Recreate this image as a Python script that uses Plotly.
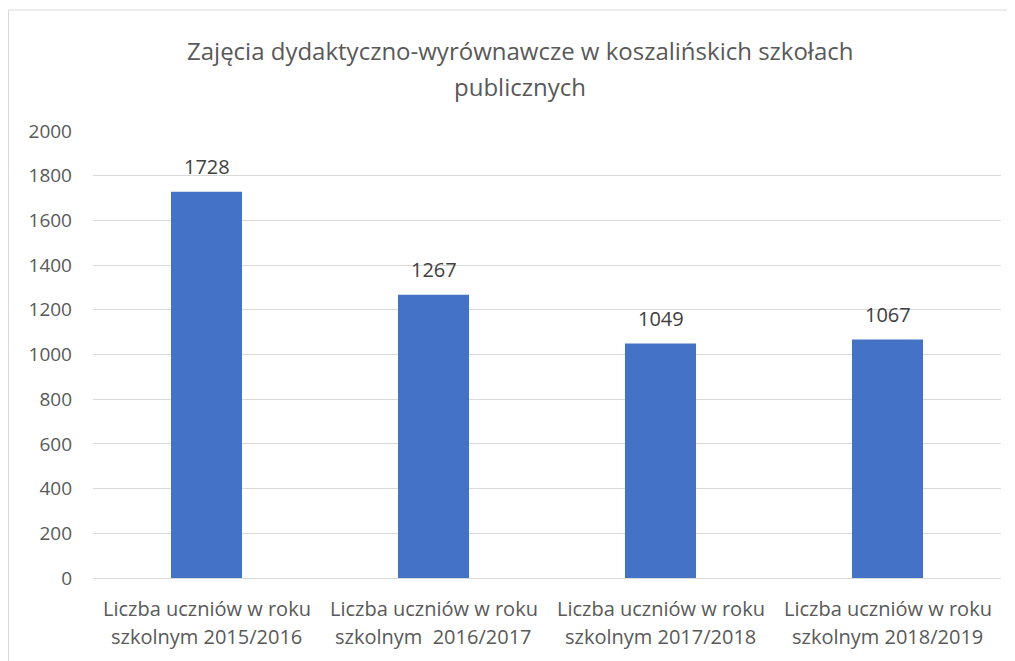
import plotly.graph_objects as go

categories = ["2015/2016", "2016/2017", "2017/2018", "2018/2019"]
label_top = ["Liczba uczniów w roku"] * 4
label_bottom = ["szkolnym 2015/2016", "szkolnym\u00a0 2016/2017",
                "szkolnym 2017/2018", "szkolnym 2018/2019"]
values = [1728, 1267, 1049, 1067]
title_lines = ["Zajęcia dydaktyczno-wyrównawcze w koszalińskich szkołach",
               "publicznych"]

FONT = "Open Sans, Noto Sans, sans-serif"
GREY = "#595959"

fig = go.Figure()
fig.add_trace(go.Bar(x=categories, y=values, marker_color="#4472C4",
                     marker_line_width=0, width=0.313))

# data labels above bars
for c, v in zip(categories, values):
    fig.add_annotation(x=c, y=v, text=str(v), showarrow=False,
                       yanchor="middle", yshift=25,
                       font=dict(family=FONT, size=20, color="#404040"))

# two-line category labels
for c, t, b in zip(categories, label_top, label_bottom):
    fig.add_annotation(x=c, y=0, yref="paper", text=t, showarrow=False,
                       yanchor="middle", yshift=-30,
                       font=dict(family=FONT, size=20, color=GREY))
    fig.add_annotation(x=c, y=0, yref="paper", text=b, showarrow=False,
                       yanchor="middle", yshift=-58,
                       font=dict(family=FONT, size=20, color=GREY))

# title
for i, line in enumerate(title_lines):
    fig.add_annotation(x=(520 - 93) / 908, xref="paper", y=1, yref="paper",
                       text=line, showarrow=False, yanchor="middle",
                       yshift=[81, 45][i],
                       font=dict(family=FONT, size=24, color=GREY))

# chart border: only left and top edges are in view
bx = -84.5 / 908
by = 1 + 121 / 447
border = dict(color="#D9D9D9", width=1)
fig.add_shape(type="line", xref="paper", yref="paper",
              x0=bx, x1=bx, y0=-0.5, y1=by, line=border, layer="below")
fig.add_shape(type="line", xref="paper", yref="paper",
              x0=bx, x1=1.3, y0=by, y1=by, line=border, layer="below")

fig.update_layout(
    width=1007, height=653,
    margin=dict(l=85, r=14, t=123, b=83),
    plot_bgcolor="white", paper_bgcolor="white",
    showlegend=False, bargap=0.687,
    font=dict(family=FONT, size=20, color=GREY),
    xaxis=dict(showticklabels=False, showline=False, ticks=""),
    yaxis=dict(range=[0, 2000], dtick=200, gridcolor="#D9D9D9",
               gridwidth=1, zeroline=True, zerolinecolor="#D9D9D9",
               zerolinewidth=1, ticklabelstandoff=20,
               tickfont=dict(family=FONT, size=19, color=GREY)),
)

fig.write_html("out.html")
